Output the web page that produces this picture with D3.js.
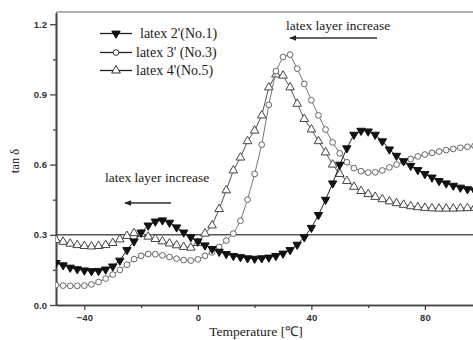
<!DOCTYPE html>
<html><head><meta charset="utf-8">
<script src="https://cdn.jsdelivr.net/npm/d3@7/dist/d3.min.js"></script>
<style>body{margin:0;background:#fff}svg{display:block}</style>
</head><body><svg id="c" width="473" height="340"></svg>
<script>
const temps = d3.range(-50, 98, 2.5);
const latex2 = [0.18,0.17,0.16,0.153,0.148,0.145,0.146,0.152,0.165,0.19,0.235,0.272,0.31,0.34,0.357,0.362,0.352,0.332,0.31,0.29,0.272,0.255,0.24,0.228,0.218,0.21,0.205,0.2,0.198,0.2,0.203,0.21,0.22,0.235,0.258,0.29,0.33,0.385,0.45,0.52,0.6,0.67,0.728,0.745,0.742,0.728,0.7,0.665,0.638,0.615,0.595,0.577,0.56,0.545,0.53,0.52,0.51,0.502,0.495,0.49];
const latex3 = [0.085,0.083,0.082,0.082,0.083,0.088,0.098,0.113,0.13,0.15,0.172,0.196,0.21,0.218,0.217,0.212,0.205,0.198,0.192,0.19,0.195,0.21,0.225,0.248,0.275,0.305,0.36,0.45,0.56,0.685,0.855,1.0,1.06,1.07,1.01,0.945,0.875,0.81,0.75,0.695,0.648,0.61,0.585,0.572,0.566,0.567,0.575,0.588,0.6,0.612,0.624,0.635,0.643,0.65,0.656,0.662,0.667,0.672,0.676,0.68];
const latex4 = [0.278,0.27,0.262,0.256,0.252,0.25,0.252,0.256,0.265,0.28,0.295,0.307,0.303,0.292,0.282,0.272,0.263,0.255,0.248,0.245,0.265,0.305,0.34,0.41,0.49,0.575,0.63,0.7,0.745,0.81,0.93,0.985,0.98,0.93,0.86,0.795,0.75,0.7,0.652,0.6,0.56,0.53,0.505,0.487,0.474,0.462,0.452,0.443,0.435,0.428,0.422,0.418,0.415,0.413,0.412,0.412,0.412,0.413,0.414,0.415];
const seriesNames = ["latex 2'(No.1)", "latex 3' (No.3)", "latex 4'(No.5)"];
const xTicks = [-40, 0, 40, 80];
const xMinor = [-20, 20, 60];
const yTicks = [0.0, 0.3, 0.6, 0.9, 1.2];
const yMinor = [0.15, 0.45, 0.75, 1.05];
const refLine = 0.3;
const annotation = "latex layer increase";

const svg = d3.select("#c");
const L = 56, T = 12, B = 305;
const x = d3.scaleLinear().domain([-50, 100]).range([L, L + 150 * 2.8375]);
const y = d3.scaleLinear().domain([0, 1.25]).range([B, B - 1.25 * 234]);

const defs = svg.append("defs");
defs.append("clipPath").attr("id", "pc")
  .append("rect").attr("x", L).attr("y", T).attr("width", 480).attr("height", B - T);
defs.append("marker").attr("id", "ah").attr("viewBox", "0 0 10 10")
  .attr("refX", 1).attr("refY", 5).attr("markerWidth", 6).attr("markerHeight", 4.5).attr("orient", "0")
  .append("path").attr("d", "M10,1 L0,5 L10,9 Z").attr("fill", "#222");

const axCol = "#444";
svg.append("line").attr("x1", L).attr("x2", 482).attr("y1", T).attr("y2", T)
  .attr("stroke", "#666").attr("stroke-width", 1.2);
svg.append("line").attr("x1", L).attr("x2", 482).attr("y1", y(refLine)).attr("y2", y(refLine))
  .attr("stroke", "#555").attr("stroke-width", 1.4);

svg.append("g").attr("transform", `translate(${L},0)`)
  .call(d3.axisLeft(y).tickValues(yTicks).tickFormat(d3.format(".1f")).tickSize(6).tickSizeOuter(0).tickPadding(3));
svg.append("g").attr("transform", `translate(${L},0)`)
  .call(d3.axisLeft(y).tickValues(yMinor).tickFormat("").tickSize(3).tickSizeOuter(0));
svg.append("g").attr("transform", `translate(0,${B})`)
  .call(d3.axisBottom(x).tickValues(xTicks).tickFormat(d3.format("d")).tickSize(5).tickSizeOuter(0).tickPadding(4));
svg.append("g").attr("transform", `translate(0,${B})`)
  .call(d3.axisBottom(x).tickValues(xMinor).tickFormat("").tickSize(3).tickSizeOuter(0));
svg.selectAll(".domain").attr("stroke", axCol).attr("stroke-width", 1.6);
svg.selectAll(".tick line").attr("stroke", axCol).attr("stroke-width", 1.3);
svg.selectAll(".tick text").attr("font-family", "Liberation Sans, Arial, sans-serif")
  .attr("font-weight", "bold").attr("font-size", "9.5px").attr("fill", "#333");

svg.append("text").attr("transform", `translate(19,161) rotate(-90)`).attr("text-anchor", "middle")
  .attr("font-family", "Liberation Serif, Times New Roman, serif").attr("font-size", "12.5px").attr("fill", "#222")
  .text("tan δ");
svg.append("text").attr("x", 256).attr("y", 336).attr("text-anchor", "middle")
  .attr("font-family", "Liberation Serif, Times New Roman, serif").attr("font-size", "13.5px").attr("fill", "#222")
  .text("Temperature [℃]");

const data = [latex2, latex3, latex4];
const styles = [
  {sym: d3.symbolTriangle, rot: 180, fill: "#111", stroke: "#111", line: "#222", size: 30},
  {sym: d3.symbolCircle, rot: 0, fill: "#fff", stroke: "#666", line: "#777", size: 26},
  {sym: d3.symbolTriangle, rot: 0, fill: "#fff", stroke: "#444", line: "#555", size: 32}
];
const plot = svg.append("g").attr("clip-path", "url(#pc)");
const line = d3.line().x((d, i) => x(temps[i])).y(d => y(d));
[2, 1, 0].forEach(k => {
  const s = styles[k];
  plot.append("path").datum(data[k]).attr("d", line).attr("fill", "none")
    .attr("stroke", s.line).attr("stroke-width", 1);
  plot.selectAll(null).data(data[k]).enter().append("path")
    .attr("d", d3.symbol().type(s.sym).size(s.size))
    .attr("transform", (d, i) => `translate(${x(temps[i])},${y(d)}) rotate(${s.rot})`)
    .attr("fill", s.fill).attr("stroke", s.stroke).attr("stroke-width", 1);
});

const legY = [33.5, 52.5, 70.5];
const legTextX = [140, 136, 136];
seriesNames.forEach((n, k) => {
  const s = styles[k];
  svg.append("line").attr("x1", 100).attr("x2", 132).attr("y1", legY[k]).attr("y2", legY[k])
    .attr("stroke", "#222").attr("stroke-width", 1.3);
  svg.append("path").attr("d", d3.symbol().type(s.sym).size(s.size))
    .attr("transform", `translate(116,${legY[k]}) rotate(${s.rot})`)
    .attr("fill", s.fill).attr("stroke", k === 0 ? "#111" : "#333").attr("stroke-width", 1);
  svg.append("text").attr("x", legTextX[k]).attr("y", legY[k] + 4.5)
    .attr("font-family", "Liberation Serif, Times New Roman, serif").attr("font-size", "14px").attr("fill", "#1a1a1a")
    .text(n);
});

function annot(tx, ty, ax1, ax2, ay) {
  svg.append("text").attr("x", tx).attr("y", ty)
    .attr("font-family", "Liberation Serif, Times New Roman, serif").attr("font-size", "13.5px").attr("fill", "#1a1a1a")
    .text(annotation);
  svg.append("line").attr("x1", ax1).attr("x2", ax2).attr("y1", ay).attr("y2", ay)
    .attr("stroke", "#333").attr("stroke-width", 1.5).attr("marker-start", "url(#ah)");
}
annot(286, 30, 290, 377, 38);
annot(105, 182, 125, 171, 203);
</script></body></html>
